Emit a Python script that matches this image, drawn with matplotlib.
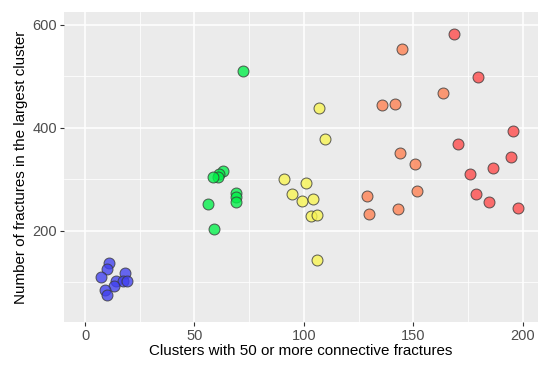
import numpy as np
import matplotlib
matplotlib.use("Agg")
import matplotlib.pyplot as plt

plt.rcParams['font.family'] = ['Liberation Sans', 'DejaVu Sans']

# cluster groups
blue_x = [11.1, 10.2, 7.2, 18.1, 14.2, 17.5, 19.0, 13.2, 9.3, 10.2]
blue_y = [138, 126, 110, 118, 102, 102, 102, 92, 85, 75]

green_x = [62.9, 61.0, 60.7, 58.6, 68.9, 68.9, 68.9, 56.2, 58.9, 72.1]
green_y = [316, 311, 305, 304, 274, 265, 256, 252, 204, 511]

yellow_x = [90.9, 100.9, 94.8, 99.1, 104.0, 103.1, 105.8, 105.8, 106.8, 109.6]
yellow_y = [300, 294, 272, 258, 261, 229, 230, 144, 439, 379]

orange_x = [144.7, 163.6, 135.6, 141.7, 143.8, 150.8, 151.7, 128.9, 129.8, 142.9]
orange_y = [554, 467, 445, 447, 351, 330, 277, 267, 233, 242]

red_x = [168.8, 179.8, 195.6, 170.6, 194.7, 186.4, 175.8, 178.5, 184.6, 197.7]
red_y = [582, 498, 394, 369, 344, 322, 311, 272, 256, 245]

groups = [
    (blue_x, blue_y, '#4040F0'),
    (green_x, green_y, '#00F048'),
    (yellow_x, yellow_y, '#F8F450'),
    (orange_x, orange_y, '#FF8050'),
    (red_x, red_y, '#FF4848'),
]

fig = plt.figure(figsize=(5.5, 3.65), dpi=100)
ax = fig.add_axes([0.1164, 0.1178, 0.8618, 0.849])
ax.set_facecolor('#EBEBEB')

for xs, ys, c in groups:
    ax.scatter(xs, ys, s=62, c=c, alpha=0.78, edgecolors='#3a3a3a',
               linewidths=0.75, zorder=3)

ax.set_xlim(-9.6, 207)
ax.set_ylim(23, 625)
ax.set_xticks([0, 50, 100, 150, 200])
ax.set_yticks([200, 400, 600])
ax.set_xticks([25, 75, 125, 175], minor=True)
ax.set_yticks([100, 300, 500], minor=True)
ax.grid(which='major', color='white', linewidth=1.1)
ax.grid(which='minor', color='white', linewidth=0.55)
ax.set_axisbelow(True)
for s in ax.spines.values():
    s.set_visible(False)
ax.tick_params(which='major', length=3, color='#333333', labelcolor='#4D4D4D',
               labelsize=10.5, pad=2)
ax.tick_params(which='minor', length=0)

ax.set_xlabel('Clusters with 50 or more connective fractures', fontsize=10.9,
              labelpad=1)
ax.set_ylabel('Number of fractures in the largest cluster', fontsize=10.9,
              labelpad=3)

fig.savefig('out.png', dpi=100)
